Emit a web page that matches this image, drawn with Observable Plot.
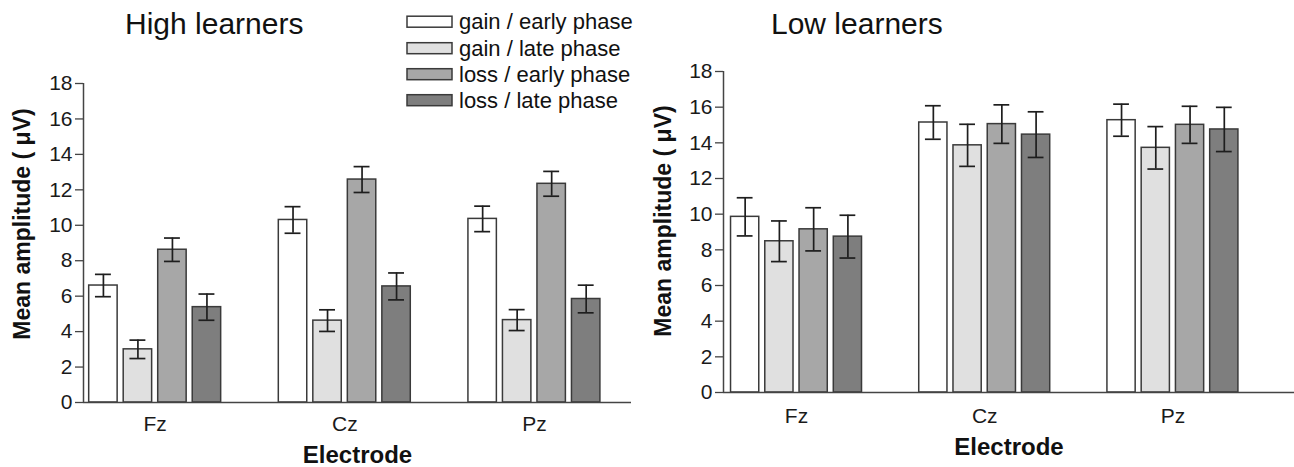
<!DOCTYPE html>
<html>
<head>
<meta charset="utf-8">
<script src="https://cdn.jsdelivr.net/npm/d3@7"></script>
<script src="https://cdn.jsdelivr.net/npm/@observablehq/plot@0.6"></script>
<style>
  body { margin: 0; background: #fff; }
  #wrap { position: relative; width: 1294px; height: 467px; overflow: hidden; background: #fff;
          font-family: "Liberation Sans", Arial, sans-serif; }
  .panel { position: absolute; top: 0; }
  #overlay { position: absolute; left: 0; top: 0; pointer-events: none; }
  #wrap g[aria-label="y-axis tick label"], #wrap g[aria-label="x-axis tick label"] { font-size: 21px; }
</style>
</head>
<body>
<div id="wrap">
  <div class="panel" id="left" style="left:0px"></div>
  <div class="panel" id="right" style="left:640px"></div>
</div>
<script>
// ---------------- data ----------------
const electrodes = ["Fz", "Cz", "Pz"];
const conditions = ["gain / early phase", "gain / late phase", "loss / early phase", "loss / late phase"];
const conditionFills = ["#ffffff", "#e0e0e0", "#a7a7a7", "#7e7e7e"];
const yTicks = [0, 2, 4, 6, 8, 10, 12, 14, 16, 18];
const panelTitles = ["High learners", "Low learners"];
const yLabel = "Mean amplitude ( \u03bcV)";
const xLabel = "Electrode";

// rows: electrode (Fz, Cz, Pz); columns: conditions
const highMeans = [[6.60, 3.00, 8.62, 5.38], [10.30, 4.62, 12.58, 6.55], [10.36, 4.65, 12.34, 5.84]];
const highErrs  = [[0.63, 0.52, 0.66, 0.74], [0.75, 0.61, 0.73, 0.76], [0.72, 0.59, 0.70, 0.78]];
const lowMeans  = [[9.85, 8.48, 9.15, 8.74], [15.14, 13.86, 15.05, 14.46], [15.27, 13.72, 15.01, 14.75]];
const lowErrs   = [[1.07, 1.14, 1.21, 1.20], [0.94, 1.18, 1.08, 1.28], [0.90, 1.19, 1.04, 1.24]];

// ---------------- helpers ----------------
const FONT = "'Liberation Sans', Arial, sans-serif";
const barStep = 0.182, barHalf = 0.075, capHalf = 0.042;

function toRows(means, errs) {
  const out = [];
  electrodes.forEach((e, gi) => conditions.forEach((c, ci) => {
    out.push({electrode: e, gi, ci, condition: c, mean: means[gi][ci], err: errs[gi][ci]});
  }));
  return out;
}
const xc = d => d.gi + (d.ci - 1.5) * barStep;

function panel(rows, cfg) {
  return Plot.plot({
    width: cfg.width, height: 467,
    marginLeft: cfg.ml, marginRight: cfg.mr, marginTop: cfg.mt, marginBottom: cfg.mb,
    x: {domain: cfg.xDomain, label: null},
    y: {domain: [0, 18], label: null},
    color: {domain: conditions, range: conditionFills},
    style: {fontFamily: FONT, fontSize: "21px", color: "#1a1a1a", background: "transparent", overflow: "visible"},
    marks: [
      Plot.rect(rows, {x1: d => xc(d) - barHalf, x2: d => xc(d) + barHalf, y1: 0, y2: "mean",
                       fill: "condition", stroke: "#3a3a3a", strokeWidth: 1.5}),
      Plot.ruleX(rows, {x: xc, y1: d => d.mean - d.err, y2: d => d.mean + d.err, stroke: "#1e1e1e", strokeWidth: 1.7}),
      Plot.ruleY(rows, {y: d => d.mean + d.err, x1: d => xc(d) - capHalf, x2: d => xc(d) + capHalf, stroke: "#1e1e1e", strokeWidth: 1.7}),
      Plot.ruleY(rows, {y: d => d.mean - d.err, x1: d => xc(d) - capHalf, x2: d => xc(d) + capHalf, stroke: "#1e1e1e", strokeWidth: 1.7}),
      Plot.ruleY([0], {stroke: "#444", strokeWidth: 1.5}),
      Plot.ruleX([cfg.xDomain[0]], {y1: 0, y2: 18, stroke: "#444", strokeWidth: 1.5}),
      Plot.axisY({ticks: yTicks, tickSize: 8, tickPadding: 3, stroke: "#444", strokeWidth: 1.3, fontSize: 21, label: null}),
      Plot.axisX({ticks: [0, 1, 2], tickSize: 0, tickPadding: cfg.xPad, tickFormat: i => electrodes[i], fontSize: 21, label: null}),
      Plot.text([yLabel], {frameAnchor: "left", textAnchor: "middle", lineAnchor: "middle",
                           dx: cfg.yLabelDx, dy: cfg.yLabelDy, rotate: -90,
                           fontSize: 23, fontWeight: "bold", fill: "#111"}),
      Plot.text([xLabel], {frameAnchor: "bottom", textAnchor: "middle", lineAnchor: "middle",
                           dy: cfg.xLabelDy, fontSize: 24, fontWeight: "bold", fill: "#111"})
    ]
  });
}

document.getElementById("left").append(panel(toRows(highMeans, highErrs), {
  width: 640, ml: 83, mr: 9, mt: 83, mb: 65,
  xDomain: [-0.378, 2.512], xPad: 14, yLabelDx: -61, yLabelDy: -19, xLabelDy: 53
}));
document.getElementById("right").append(panel(toRows(lowMeans, lowErrs), {
  width: 654, ml: 83, mr: 0, mt: 71, mb: 75,
  xDomain: [-0.388, 2.646], xPad: 15.5, yLabelDx: -60, yLabelDy: -11, xLabelDy: 55
}));

// ---------------- titles + legend overlay ----------------
const svg = d3.select("#wrap").append("svg").attr("id", "overlay")
  .attr("width", 1294).attr("height", 467).style("font-family", FONT);
svg.append("text").attr("x", 125).attr("y", 34).attr("font-size", 30).attr("fill", "#111").text(panelTitles[0]);
svg.append("text").attr("x", 771).attr("y", 34).attr("font-size", 30).attr("fill", "#111").text(panelTitles[1]);

const legendRowY = [21.7, 48.2, 74.2, 100.2];
conditions.forEach((c, i) => {
  const g = svg.append("g").attr("transform", `translate(407,${legendRowY[i]})`);
  g.append("rect").attr("x", 0).attr("y", -5.5).attr("width", 45).attr("height", 11)
    .attr("fill", conditionFills[i]).attr("stroke", "#3a3a3a").attr("stroke-width", 1.5);
  g.append("text").attr("x", 52).attr("y", 0).attr("dy", "0.35em").attr("font-size", 22).attr("fill", "#111").text(c);
});
</script>
</body>
</html>
